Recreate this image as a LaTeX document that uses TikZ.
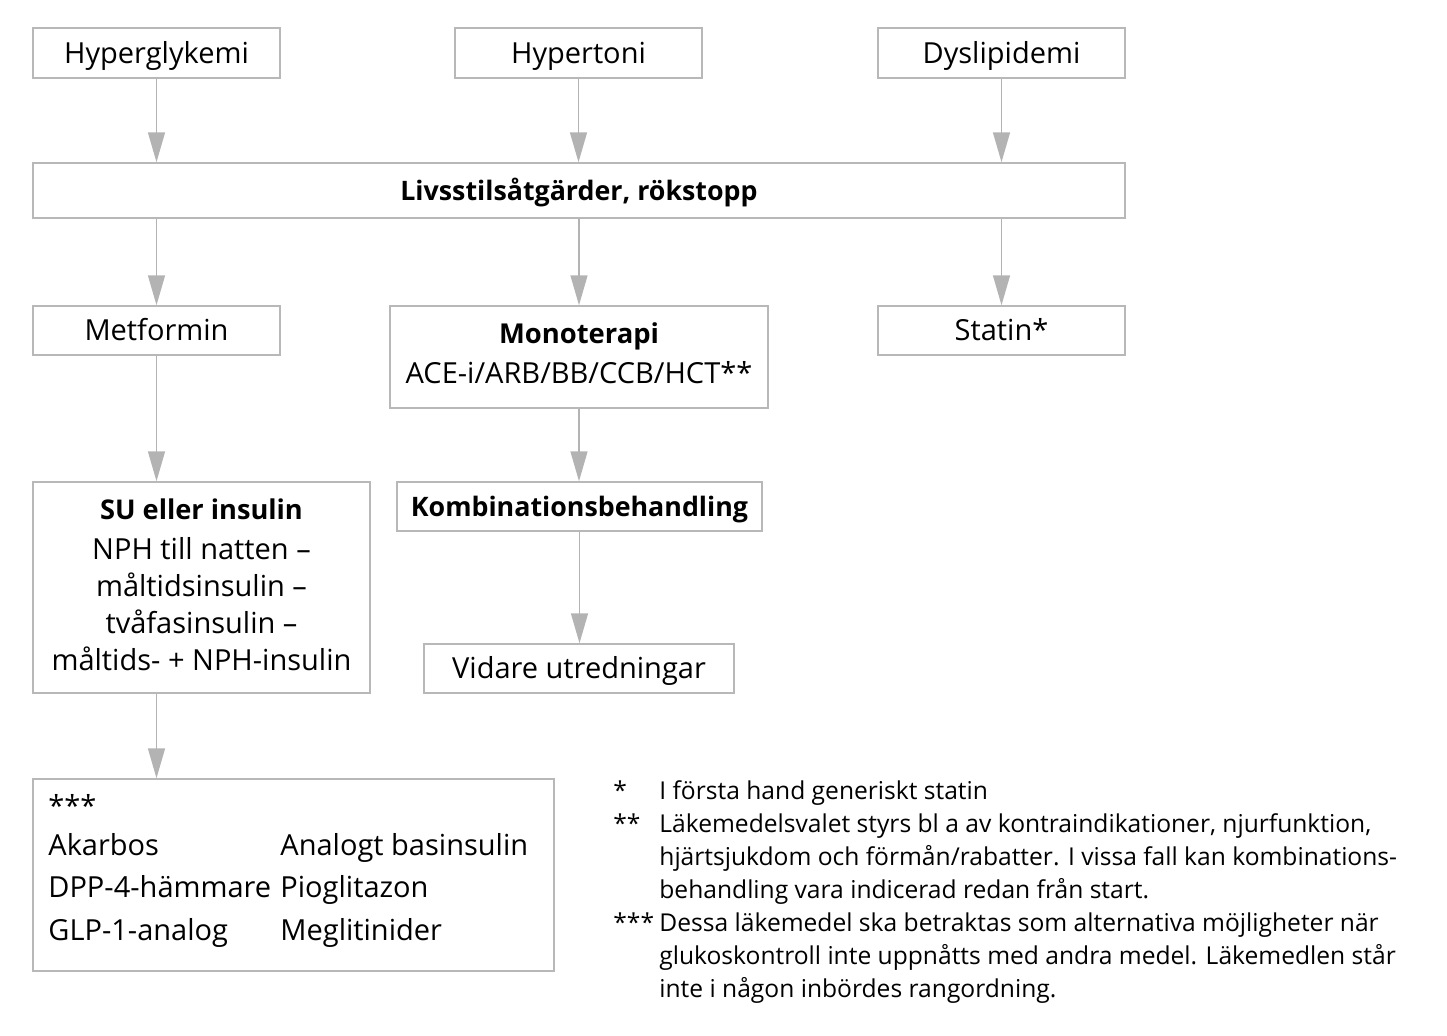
\documentclass[tikz,border=0pt]{standalone}
\usepackage{fontspec}
\setmainfont{Open Sans}
\usetikzlibrary{arrows.meta}
\definecolor{boxgray}{HTML}{B8B8B8}
\definecolor{arrowgray}{HTML}{B3B3B3}
\begin{document}
\begin{tikzpicture}[x=0.5pt,y=-0.5pt,
  box/.style={draw=boxgray,line width=0.75pt,inner sep=0pt,align=center,text height=11.5pt,text depth=1.5pt,font=\fontsize{14.5}{19}\selectfont},
  boldbox/.style={box,font=\fontsize{13.4}{19}\selectfont\bfseries},
  txt/.style={inner sep=0pt,align=center,anchor=north},
  arr/.style={draw=boxgray,line width=0.75pt,-{Triangle[width=8.5pt,length=15pt]},arrowgray},
  item/.style={anchor=base west,inner sep=0pt,font=\fontsize{14.5}{19}\selectfont},
  note/.style={anchor=base west,inner sep=0pt,font=\fontsize{12.3}{16}\selectfont}]
  \useasboundingbox (0,0) rectangle (1447,1035);
  % top row
  \node[box,minimum width=123.5pt,minimum height=25pt] (hyp) at (156.5,53) {Hyperglykemi};
  \node[box,minimum width=123.5pt,minimum height=25pt] (hton) at (578.5,53) {Hypertoni};
  \node[box,minimum width=123.5pt,minimum height=25pt] (dys) at (1001.5,53) {Dyslipidemi};
  \node[boldbox,minimum width=546pt,minimum height=27.5pt] (liv) at (579,190.5) {Livsstilsåtgärder, rökstopp};
  % second row
  \node[box,minimum width=123.5pt,minimum height=24.5pt] (met) at (156.5,330.5) {Metformin};
  \node[box,minimum width=189pt,minimum height=51pt] (mono) at (579,357) {};
  \node[txt,font=\fontsize{14.5}{20}\selectfont] (monotxt) at (579,322) {{\fontsize{13.7}{20}\selectfont\bfseries Monoterapi}\\ACE-i/ARB/BB/CCB/HCT**};
  \node[box,minimum width=123.5pt,minimum height=24.5pt] (stat) at (1001.5,330.5) {Statin*};
  % third row
  \node[box,minimum width=168.5pt,minimum height=105.5pt] (su) at (201.5,587.5) {};
  \node[txt,font=\fontsize{14.5}{18.5}\selectfont] (sutxt) at (201.5,498) {{\fontsize{13.6}{18.5}\selectfont\bfseries SU eller insulin}\\[1.5pt]NPH till natten –\\måltidsinsulin –\\tvåfasinsulin –\\måltids- + NPH-insulin};
  \node[boldbox,minimum width=182.5pt,minimum height=24.5pt] (komb) at (579.5,506.5) {Kombinationsbehandling};
  \node[box,minimum width=155pt,minimum height=24.5pt] (vid) at (579,668.5) {Vidare utredningar};
  % alternatives
  \node[box,minimum width=260.5pt,minimum height=96pt] (alt) at (293.5,875) {};
  \node[item] (a0) at (48,816) {***};
  \node[item] (a1) at (48,855) {Akarbos};
  \node[item] (a2) at (48,897) {DPP-4-hämmare};
  \node[item] (a3) at (48,940) {GLP-1-analog};
  \node[item] (b1) at (280,855) {Analogt basinsulin};
  \node[item] (b2) at (280,897) {Pioglitazon};
  \node[item] (b3) at (280,940) {Meglitinider};
  % arrows
  \draw[arr] (hyp.south) -- (hyp.south |- liv.north);
  \draw[arr] (hton.south) -- (hton.south |- liv.north);
  \draw[arr] (dys.south) -- (dys.south |- liv.north);
  \draw[arr] (liv.south -| met.north) -- (met.north);
  \draw[arr] (liv.south -| mono.north) -- (mono.north);
  \draw[arr] (liv.south -| stat.north) -- (stat.north);
  \draw[arr] (met.south) -- (met.south |- su.north);
  \draw[arr] (mono.south) -- (mono.south |- komb.north);
  \draw[arr] (komb.south) -- (komb.south |- vid.north);
  \draw[arr] (su.south -| met.south) -- (met.south |- alt.north);
  % footnotes
  \node[note] (f1) at (613,799) {*};
  \node[note] (f2) at (613,832) {**};
  \node[note] (f3) at (613,931) {***};
  \node[note] (t1) at (659,799) {I första hand generiskt statin};
  \node[note] (t2) at (659,832) {Läkemedelsvalet styrs bl a av kontraindikationer, njurfunktion,};
  \node[note] (t3) at (659,865) {hjärtsjukdom och förmån/rabatter. I vissa fall kan kombinations-};
  \node[note] (t4) at (659,898) {behandling vara indicerad redan från start.};
  \node[note] (t5) at (659,931) {Dessa läkemedel ska betraktas som alternativa möjligheter när};
  \node[note] (t6) at (659,964) {glukoskontroll inte uppnåtts med andra medel. Läkemedlen står};
  \node[note] (t7) at (659,997) {inte i någon inbördes rangordning.};
\end{tikzpicture}
\end{document}
